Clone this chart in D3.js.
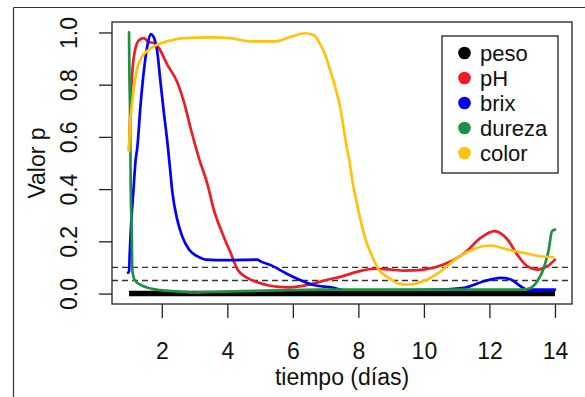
<!DOCTYPE html>
<html><head><meta charset="utf-8">
<script src="https://cdn.jsdelivr.net/npm/d3@7"></script>
<style>body{margin:0;background:#fff}svg{display:block;font-family:"Liberation Sans",Arial,sans-serif}</style>
</head><body><svg id="c" width="585" height="397"></svg>
<script>
// ---- data ----
const xTicks = [2,4,6,8,10,12,14];
const yTicks = [0,0.2,0.4,0.6,0.8,1.0];
const yTickLabels = ["0.0","0.2","0.4","0.6","0.8","1.0"];
const refLines = [0.05, 0.10];
const seriesNames = ["peso","pH","brix","dureza","color"];
const seriesColors = ["#000000","#EE1D25","#0000FF","#1E9140","#FFC20E"];

const pesoDays = [1,2,3,4,5,6,7,8,9,10,11,12,13,14];
const pesoValues = [0,0,0,0,0,0,0,0,0,0,0,0,0,0];

const phDays = [1.00,1.02,1.07,1.15,1.30,1.45,1.60,1.76,1.91,2.17,2.47,2.67,2.88,3.13,3.39,3.59,3.85,4.10,4.31,4.61,4.92,5.26,5.87,6.48,6.99,7.50,8.01,8.52,9.00,9.39,10.0,10.6,11.25,11.73,12.15,12.55,12.85,13.15,13.46,13.77,14.0];
const phValues = [0.55,0.63,0.79,0.91,0.97,0.978,0.963,0.96,0.94,0.876,0.81,0.736,0.633,0.52,0.42,0.32,0.23,0.156,0.092,0.06,0.043,0.031,0.024,0.034,0.051,0.066,0.085,0.095,0.092,0.088,0.092,0.111,0.156,0.213,0.239,0.207,0.149,0.105,0.092,0.105,0.13];

const brixDays = [0.97,1.00,1.02,1.06,1.13,1.20,1.25,1.35,1.45,1.56,1.66,1.74,1.86,1.96,2.07,2.17,2.25,2.32,2.47,2.62,2.83,3.08,3.34,4.0,4.92,5.0,5.36,5.77,6.18,6.59,7.25,7.6,9.0,10.5,11.23,11.83,12.34,12.65,12.95,13.15,14.0];
const brixValues = [0.08,0.085,0.15,0.258,0.387,0.51,0.557,0.72,0.85,0.95,0.994,0.985,0.927,0.81,0.685,0.58,0.48,0.39,0.284,0.22,0.169,0.143,0.13,0.128,0.13,0.124,0.107,0.079,0.054,0.034,0.022,0.012,0.012,0.015,0.022,0.047,0.06,0.054,0.028,0.015,0.015];

const durezaDays = [1.00,1.01,1.03,1.05,1.08,1.10,1.18,1.44,1.95,2.5,3.0,3.5,4.5,5.5,6.8,8.0,10.0,12.5,12.84,13.15,13.46,13.66,13.81,13.91,14.0];
const durezaValues = [1.0,0.85,0.71,0.42,0.25,0.09,0.05,0.028,0.013,0.008,0.004,0.006,0.009,0.012,0.015,0.015,0.015,0.015,0.015,0.017,0.047,0.098,0.169,0.239,0.245];

const colorDays = [1.00,1.03,1.07,1.15,1.25,1.40,1.60,1.86,2.17,2.67,3.49,4.10,4.71,5.47,5.97,6.38,6.64,6.84,6.99,7.15,7.30,7.45,7.55,7.65,7.73,7.81,7.93,8.06,8.22,8.42,8.62,8.93,9.23,9.49,10.10,10.51,11.02,11.53,12.04,12.54,13.05,13.56,13.95];
const colorValues = [0.545,0.65,0.70,0.79,0.863,0.908,0.934,0.953,0.966,0.978,0.981,0.978,0.966,0.966,0.985,0.997,0.989,0.953,0.914,0.85,0.787,0.71,0.633,0.557,0.506,0.437,0.36,0.284,0.207,0.143,0.092,0.06,0.038,0.034,0.054,0.085,0.137,0.171,0.184,0.169,0.156,0.143,0.14];

const seriesDays = [pesoDays, phDays, brixDays, durezaDays, colorDays];
const seriesValues = [pesoValues, phValues, brixValues, durezaValues, colorValues];

// ---- drawing ----
const svg = d3.select("#c");
const L = 112, R = 572, T = 22, B = 304;
const x = d3.scaleLinear().domain([0.48, 14.52]).range([L, R]);
const y = d3.scaleLinear().domain([-0.04, 1.04]).range([B, T]);
const ink = "#222";
const txt = "#111";
const FS = 23;

// outer frame
svg.append("line").attr("x1",13.5).attr("x2",585).attr("y1",7.5).attr("y2",7.5).attr("stroke","#333").attr("stroke-width",1.2);
svg.append("line").attr("x1",13.5).attr("x2",13.5).attr("y1",7.5).attr("y2",397).attr("stroke","#333").attr("stroke-width",1.2);

// dashed reference lines
svg.selectAll("line.ref").data(refLines).enter().append("line")
  .attr("x1",L).attr("x2",R).attr("y1",d=>y(d)).attr("y2",d=>y(d))
  .attr("stroke","#333").attr("stroke-width",1.3).attr("stroke-dasharray","6,4");

// series lines
const line = d3.line().x(d=>x(d[0])).y(d=>y(d[1])).curve(d3.curveMonotoneX);
seriesNames.forEach((name,i)=>{
  const pts = seriesDays[i].map((d,j)=>[d, seriesValues[i][j]]);
  svg.append("path").attr("d", line(pts)).attr("fill","none")
    .attr("stroke", seriesColors[i]).attr("stroke-width", i===0 ? 5.5 : 2.7)
    .attr("stroke-linejoin","round").attr("stroke-linecap", i===0 ? "butt" : "round");
});

// plot box
svg.append("rect").attr("x",L).attr("y",T).attr("width",R-L).attr("height",B-T)
  .attr("fill","none").attr("stroke",ink).attr("stroke-width",1.3);

// x axis
const xAxis = d3.axisBottom(x).tickValues(xTicks).tickSize(14).tickFormat(d3.format("d"));
const gx = svg.append("g").attr("transform",`translate(0,${B})`).call(xAxis);
gx.select(".domain").remove();
gx.selectAll("line").attr("stroke",ink).attr("stroke-width",1.3);
gx.selectAll("text").attr("y",55).attr("dy",null).attr("font-size",FS).attr("fill",txt)
  .attr("font-family","'Liberation Sans',Arial,sans-serif");

// y axis
const yAxis = d3.axisLeft(y).tickValues(yTicks).tickSize(13).tickFormat((d,i)=>yTickLabels[i]);
const gy = svg.append("g").attr("transform",`translate(${L},0)`).call(yAxis);
gy.select(".domain").remove();
gy.selectAll("line").attr("stroke",ink).attr("stroke-width",1.3);
gy.selectAll("text").remove();
gy.selectAll("g.tick").append("text")
  .attr("transform","translate(-35,0) rotate(-90)")
  .attr("text-anchor","middle").attr("font-size",FS).attr("fill",txt)
  .text((d,i)=>yTickLabels[i]);

// axis titles
svg.append("text").attr("x",(L+R)/2).attr("y",385).attr("text-anchor","middle")
  .attr("font-size",FS).attr("fill",txt).text("tiempo (días)");
svg.append("text").attr("transform",`translate(45,${(T+B)/2}) rotate(-90)`).attr("text-anchor","middle")
  .attr("font-size",FS).attr("fill",txt).text("Valor p");

// legend
const lg = svg.append("g");
lg.append("rect").attr("x",442).attr("y",36).attr("width",116).attr("height",137)
  .attr("fill","#fff").attr("stroke",ink).attr("stroke-width",1.3);
seriesNames.forEach((name,i)=>{
  const cy = 53 + i*25;
  lg.append("circle").attr("cx",464.5).attr("cy",cy).attr("r",6.3).attr("fill",seriesColors[i]);
  lg.append("text").attr("x",480).attr("y",cy).attr("dy","0.35em").attr("font-size",22).attr("fill",txt).text(name);
});
</script></body></html>
